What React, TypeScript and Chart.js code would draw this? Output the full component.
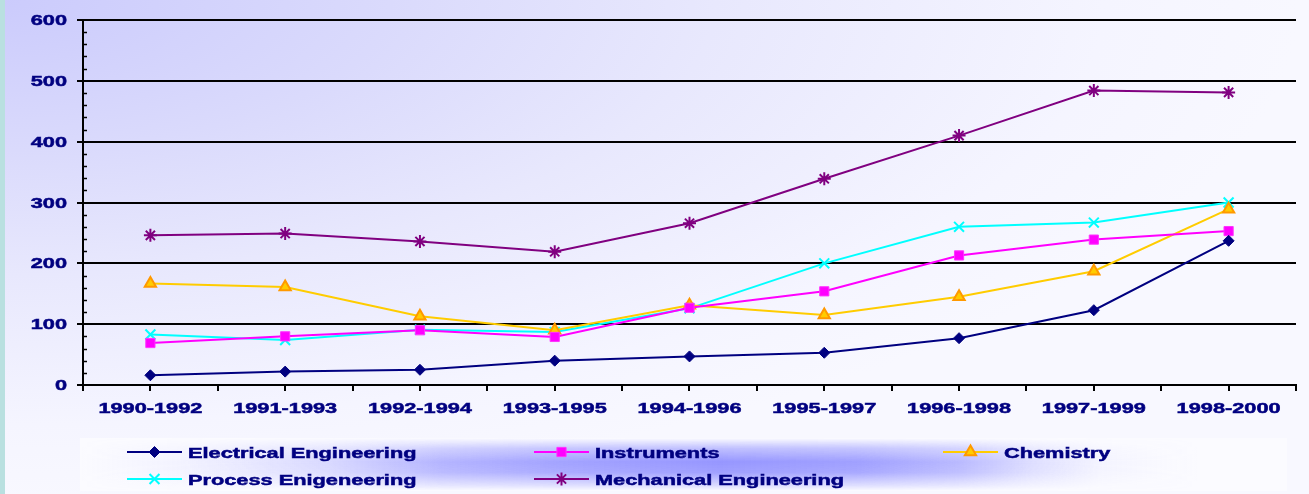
import React, { useEffect, useRef } from "react";
import { Chart, registerables } from "chart.js";
import { drawPoint } from "chart.js/helpers";

Chart.register(...registerables);

const categories = [
  "1990-1992",
  "1991-1993",
  "1992-1994",
  "1993-1995",
  "1994-1996",
  "1995-1997",
  "1996-1998",
  "1997-1999",
  "1998-2000",
];
const electrical = [16, 22, 25, 40, 47, 53, 77, 123, 237];
const instruments = [69, 80, 90, 79, 127, 154, 213, 239, 253];
const chemistry = [167, 161, 113, 90, 131, 115, 145, 187, 289];
const processEng = [83, 74, 91, 87, 126, 200, 260, 267, 300];
const mechanical = [246, 249, 236, 219, 266, 339, 410, 484, 481];
const yTickValues = [0, 100, 200, 300, 400, 500, 600];
const seriesNames = [
  "Electrical Engineering",
  "Instruments",
  "Chemistry",
  "Process Enigeneering",
  "Mechanical Engineering",
];

const TEXT_COLOR = "#000080";
const FONT_PX = 15;
const STRETCH = 1.45;
const FONT = `bold ${FONT_PX}px "Liberation Sans", Arial, sans-serif`;

function drawStretched(
  ctx: CanvasRenderingContext2D,
  text: string,
  x: number,
  y: number,
  align: "left" | "center" | "right"
) {
  ctx.save();
  ctx.font = FONT;
  ctx.fillStyle = TEXT_COLOR;
  ctx.strokeStyle = TEXT_COLOR;
  ctx.lineWidth = 0.5;
  ctx.textBaseline = "middle";
  ctx.textAlign = "left";
  const w = ctx.measureText(text).width * STRETCH;
  const left = align === "left" ? x : align === "center" ? x - w / 2 : x - w;
  ctx.translate(left, y);
  ctx.scale(STRETCH, 1);
  ctx.fillText(text, 0, 0);
  ctx.strokeText(text, 0, 0);
  ctx.restore();
}

function drawLegendBand(ctx: CanvasRenderingContext2D) {
  const bx = 80, by = 438, bw = 1207, bh = 53;
  ctx.save();
  ctx.fillStyle = "rgba(252,252,255,0.75)";
  ctx.fillRect(bx, by, bw, bh);
  const off = document.createElement("canvas");
  off.width = bw;
  off.height = bh;
  const o = off.getContext("2d") as CanvasRenderingContext2D;
  const hg = o.createLinearGradient(0, 0, bw, 0);
  const stops: [number, number][] = [
    [80, 0],
    [180, 0.08],
    [330, 0.35],
    [440, 0.7],
    [560, 0.88],
    [720, 1],
    [860, 0.9],
    [960, 0.65],
    [1030, 0.3],
    [1100, 0.08],
    [1200, 0],
    [1287, 0],
  ];
  stops.forEach(([px, a]) => {
    hg.addColorStop(Math.min(1, Math.max(0, (px - bx) / bw)), `rgba(150,150,255,${a})`);
  });
  o.fillStyle = hg;
  o.fillRect(0, 0, bw, bh);
  o.globalCompositeOperation = "destination-in";
  const vg = o.createLinearGradient(0, 0, 0, bh);
  vg.addColorStop(0, "rgba(0,0,0,0)");
  vg.addColorStop(0.2, "rgba(0,0,0,0.6)");
  vg.addColorStop(0.45, "rgba(0,0,0,1)");
  vg.addColorStop(0.65, "rgba(0,0,0,0.9)");
  vg.addColorStop(0.9, "rgba(0,0,0,0.3)");
  vg.addColorStop(1, "rgba(0,0,0,0)");
  o.fillStyle = vg;
  o.fillRect(0, 0, bw, bh);
  ctx.drawImage(off, bx, by);
  ctx.restore();
}

const decorPlugin = {
  id: "decor",
  beforeDatasetsDraw(chart: any) {
    const ctx: CanvasRenderingContext2D = chart.ctx;
    const x = chart.scales.x;
    const y = chart.scales.y;
    const area = chart.chartArea;
    ctx.save();
    ctx.strokeStyle = "#000";
    ctx.lineWidth = 1.5;
    for (let v = 0; v <= 600; v += 20) {
      if (v % 100 === 0) continue;
      const py = Math.round(y.getPixelForValue(v)) + 0.5;
      ctx.beginPath();
      ctx.moveTo(area.left, py);
      ctx.lineTo(area.left + 4, py);
      ctx.stroke();
    }
    ctx.lineWidth = 2;
    const n = categories.length;
    const half = (x.getPixelForValue(1) - x.getPixelForValue(0)) / 2;
    for (let i = 0; i <= n * 2; i++) {
      const px = Math.round(x.getPixelForValue(0) - half + i * half);
      ctx.beginPath();
      ctx.moveTo(px, area.bottom);
      ctx.lineTo(px, area.bottom + 6);
      ctx.stroke();
    }
    ctx.restore();
  },
  afterDraw(chart: any) {
    const ctx: CanvasRenderingContext2D = chart.ctx;
    const x = chart.scales.x;
    const y = chart.scales.y;
    const area = chart.chartArea;
    yTickValues.forEach((v) => {
      drawStretched(ctx, String(v), area.left - 16, y.getPixelForValue(v) + 1, "right");
    });
    categories.forEach((c, i) => {
      drawStretched(ctx, c, x.getPixelForValue(i), area.bottom + 24, "center");
    });

    drawLegendBand(ctx);

    const colX = [127, 534, 943];
    const rowY = [452, 479];
    chart.data.datasets.forEach((ds: any, i: number) => {
      const lx = colX[i % 3];
      const ly = rowY[Math.floor(i / 3)];
      ctx.save();
      ctx.strokeStyle = ds.borderColor;
      ctx.lineWidth = 2;
      ctx.beginPath();
      ctx.moveTo(lx, ly);
      ctx.lineTo(lx + 55, ly);
      ctx.stroke();
      ctx.fillStyle = ds.pointBackgroundColor;
      ctx.strokeStyle = ds.pointBorderColor;
      ctx.lineWidth = ds.pointBorderWidth;
      drawPoint(
        ctx,
        { pointStyle: ds.pointStyle, rotation: 0, radius: ds.pointRadius, borderWidth: ds.pointBorderWidth } as any,
        lx + 27.5,
        ly
      );
      ctx.restore();
      drawStretched(ctx, ds.label, lx + 61, ly + 1.5, "left");
    });
  },
};

export default function App() {
  const canvasRef = useRef<HTMLCanvasElement | null>(null);

  useEffect(() => {
    if (!canvasRef.current) return;
    const mk = (
      label: string,
      data: number[],
      color: string,
      pointStyle: string,
      radius: number,
      fill: string,
      border: string,
      bw: number
    ) => ({
      label,
      data,
      borderColor: color,
      backgroundColor: color,
      borderWidth: 2,
      pointStyle,
      pointRadius: radius,
      pointHoverRadius: radius,
      pointBackgroundColor: fill,
      pointBorderColor: border,
      pointBorderWidth: bw,
      tension: 0,
      fill: false,
    });
    const chart = new Chart(canvasRef.current, {
      type: "line",
      data: {
        labels: categories,
        datasets: [
          mk(seriesNames[0], electrical, "#000080", "rectRot", 5.5, "#000080", "#000080", 1),
          mk(seriesNames[1], instruments, "#ff00ff", "rect", 6.5, "#ff00ff", "#ff33ff", 1),
          mk(seriesNames[2], chemistry, "#ffcc00", "triangle", 6.5, "#ffcc00", "#ff9900", 2),
          mk(seriesNames[3], processEng, "#00ffff", "crossRot", 7, "#00ffff", "#00ffff", 2),
          mk(seriesNames[4], mechanical, "#800080", "star", 6.5, "#800080", "#800080", 2),
        ] as any,
      },
      options: {
        animation: false,
        responsive: true,
        maintainAspectRatio: false,
        layout: { padding: { top: 20, right: 13, bottom: 69, left: 0 } },
        plugins: {
          legend: { display: false },
          tooltip: { enabled: false },
        },
        scales: {
          x: {
            type: "category",
            offset: true,
            grid: { display: false },
            border: { display: true, color: "#000", width: 2 },
            ticks: { display: false },
            afterFit: (s: any) => {
              s.height = 40;
            },
          },
          y: {
            min: 0,
            max: 600,
            ticks: { stepSize: 100, display: false },
            grid: { color: "#000", lineWidth: 2, tickLength: 6, drawTicks: true },
            border: { display: true, color: "#000", width: 2 },
            afterFit: (s: any) => {
              s.width = 83;
            },
          },
        },
      } as any,
      plugins: [decorPlugin],
    });
    return () => chart.destroy();
  }, []);

  return (
    <div
      style={{
        position: "absolute",
        left: 0,
        top: 0,
        width: 1309,
        height: 494,
        overflow: "hidden",
        background:
          "radial-gradient(1300px 500px at 0px 0px, #cbcbfc 0%, #dadafc 30%, #e8e8fd 55%, #f5f5ff 85%, #f8f8ff 100%)",
      }}
    >
      <div
        style={{
          position: "absolute",
          left: 0,
          top: 0,
          width: 5,
          height: 494,
          background: "#b9e0e0",
        }}
      />
      <canvas ref={canvasRef} width={1309} height={494} />
    </div>
  );
}
